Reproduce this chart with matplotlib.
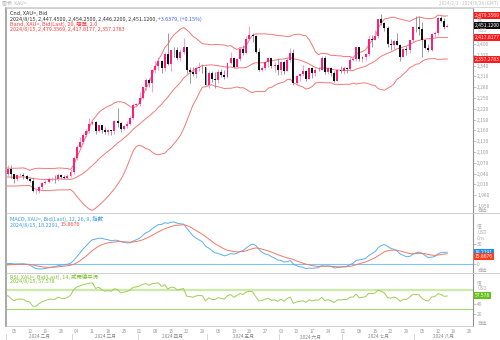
import numpy as np
import pandas as pd
import matplotlib
matplotlib.use('Agg')
import matplotlib.pyplot as plt
from matplotlib.transforms import blended_transform_factory

plt.rcParams['font.family'] = ['Noto Sans CJK TC', 'DejaVu Sans']

# XAU= daily candles, 2024-02-01 .. 2024-08-15
dates = pd.bdate_range('2024-02-01', '2024-08-15')

opens = [2039, 2054, 2039, 2025, 2035, 2035, 2034, 2024, 2020, 1992, 1992, 2004, 2013, 2018, 2024, 2025, 2024, 2035, 2031, 2029, 2034,
         2044, 2083, 2114, 2128, 2148, 2159, 2179, 2182, 2158, 2174, 2162, 2155, 2160, 2157, 2186, 2181, 2165, 2172, 2179, 2194, 2231,
         2233, 2251, 2280, 2300, 2291, 2329, 2339, 2352, 2333, 2373, 2344, 2383, 2382, 2361, 2379, 2391, 2327, 2322, 2316, 2332, 2337, 2335,
         2286, 2320, 2303, 2301, 2323, 2314, 2309, 2346, 2360, 2336, 2358, 2385, 2376, 2415, 2425, 2421, 2379, 2329, 2334, 2350, 2361, 2338, 2343,
         2327, 2350, 2326, 2355, 2375, 2293, 2311, 2316, 2324, 2303, 2333, 2319, 2329, 2328, 2360, 2322, 2334, 2320, 2298, 2327,
         2326, 2332, 2330, 2356, 2357, 2392, 2358, 2364, 2371, 2415, 2411, 2422, 2469, 2459, 2445, 2400, 2396, 2409, 2398, 2365, 2387, 2384, 2410,
         2448, 2446, 2443, 2410, 2390, 2382, 2427, 2431, 2472, 2465, 2447.45]
highs = [2065, 2065, 2040, 2039, 2043, 2042, 2036, 2030, 2031, 1996, 2006, 2016, 2022, 2031, 2030, 2035, 2041, 2038, 2037, 2039, 2053,
         2088, 2119, 2141, 2152, 2165, 2195, 2189, 2185, 2175, 2175, 2170, 2163, 2162, 2189, 2222, 2183, 2176, 2185, 2199, 2236, 2236,
         2266, 2281, 2305, 2305, 2331, 2354, 2365, 2355, 2378, 2431, 2384, 2392, 2392, 2385, 2417, 2392, 2336, 2335, 2338, 2351, 2345, 2336,
         2326, 2326, 2323, 2330, 2330, 2327, 2351, 2378, 2364, 2360, 2391, 2398, 2422, 2450, 2430, 2426, 2390, 2339, 2352, 2364, 2362, 2351, 2360,
         2354, 2353, 2365, 2388, 2387, 2314, 2318, 2342, 2327, 2336, 2335, 2332, 2335, 2366, 2368, 2337, 2336, 2325, 2331, 2339,
         2340, 2335, 2365, 2363, 2392, 2393, 2366, 2375, 2425, 2424, 2440, 2470, 2483, 2462, 2449, 2413, 2412, 2431, 2400, 2390, 2394, 2412, 2451,
         2477, 2477, 2461, 2415, 2400, 2431, 2437, 2475, 2478, 2472, 2454.25]
lows = [2032, 2029, 2014, 2020, 2030, 2026, 2021, 2017, 1990, 1984, 1985, 1997, 2012, 2013, 2019, 2015, 2019, 2026, 2024, 2025, 2030,
        2039, 2079, 2110, 2123, 2141, 2154, 2175, 2150, 2156, 2152, 2151, 2147, 2146, 2151, 2169, 2156, 2160, 2168, 2175, 2188, 2229,
        2229, 2246, 2272, 2281, 2267, 2319, 2327, 2319, 2326, 2342, 2326, 2365, 2356, 2354, 2372, 2320, 2292, 2311, 2305, 2325, 2320, 2285,
        2277, 2295, 2277, 2291, 2308, 2303, 2306, 2345, 2332, 2336, 2354, 2370, 2373, 2412, 2406, 2375, 2326, 2325, 2329, 2335, 2334, 2323, 2314,
        2314, 2316, 2325, 2351, 2287, 2286, 2298, 2312, 2296, 2302, 2306, 2310, 2325, 2327, 2316, 2318, 2310, 2294, 2298, 2319,
        2318, 2319, 2326, 2352, 2353, 2353, 2351, 2356, 2367, 2393, 2410, 2418, 2452, 2435, 2393, 2384, 2385, 2397, 2353, 2364, 2370, 2376, 2405,
        2432, 2426, 2364, 2385, 2378, 2380, 2419, 2425, 2461, 2441, 2446.22]
closes = [2054, 2039, 2025, 2035, 2035, 2034, 2024, 2020, 1992, 1992, 2004, 2013, 2018, 2024, 2025, 2024, 2035, 2031, 2029, 2034, 2044,
          2083, 2114, 2128, 2148, 2159, 2179, 2182, 2158, 2174, 2162, 2155, 2160, 2157, 2186, 2181, 2165, 2172, 2179, 2194, 2231, 2233,
          2251, 2280, 2300, 2291, 2329, 2339, 2352, 2333, 2373, 2344, 2383, 2382, 2361, 2379, 2391, 2327, 2322, 2316, 2332, 2337, 2335, 2286,
          2320, 2303, 2301, 2323, 2314, 2309, 2346, 2360, 2336, 2358, 2385, 2376, 2415, 2425, 2421, 2379, 2329, 2334, 2350, 2361, 2338, 2343, 2327,
          2350, 2326, 2355, 2375, 2293, 2311, 2316, 2324, 2303, 2333, 2319, 2329, 2328, 2360, 2322, 2334, 2320, 2298, 2327, 2326,
          2332, 2330, 2356, 2357, 2392, 2358, 2364, 2371, 2415, 2411, 2422, 2469, 2459, 2445, 2400, 2396, 2409, 2398, 2365, 2387, 2384, 2410, 2448,
          2446, 2443, 2410, 2390, 2382, 2427, 2431, 2472, 2465, 2447.48, 2451.12]

# closes before the visible window (Nov 2023 - Jan 2024), only for indicator warm-up
warmup_closes = [1983, 1986, 1992, 1978, 1969, 1950, 1958, 1940, 1946, 1963, 1959, 1981, 1981, 1978, 1998, 1990, 1992, 2002, 2014, 2041, 2044, 2036,
                 2072, 2029, 2019, 2025, 2028, 2004, 1981, 1980, 2027, 2036, 2019, 2027, 2040, 2031, 2045, 2053, 2053, 2067, 2077, 2065, 2063,
                 2063, 2059, 2042, 2043, 2045, 2027, 2030, 2024, 2029, 2049, 2055, 2028, 2006, 2023, 2029, 2022, 2029, 2014, 2020, 2018, 2032, 2037, 2039]

price_ticks = [1950, 1980, 2010, 2040, 2070, 2100, 2130, 2160, 2190, 2220, 2250, 2280, 2310, 2340, 2370, 2400]
macd_ticks = [0, 30]
rsi_ticks = [20, 40]
rsi_levels = [70, 30]
month_names = ['二月', '三月', '四月', '五月', '六月', '七月', '八月']

# last-value labels shown on the right axis
band_last = ['2,479.3569', '2,417.8177', '2,357.2783']
band_last_vals = [2479.3569, 2417.8177, 2357.2783]
close_last = '2,451.1200'
macd_last, signal_last = 18.2291, 15.8676
rsi_last = 57.578

# ---- indicators ----
all_close = pd.Series(warmup_closes + closes, dtype=float)
nw = len(warmup_closes)
mid = all_close.rolling(20).mean()
sd = all_close.rolling(20).std(ddof=0)
upper = mid + 2 * sd
lower = mid - 2 * sd
macd = all_close.ewm(span=12, adjust=False).mean() - all_close.ewm(span=26, adjust=False).mean()
signal = macd.ewm(span=9, adjust=False).mean()
delta = all_close.diff()
gain = delta.clip(lower=0).ewm(alpha=1 / 14, adjust=False).mean()
loss = (-delta.clip(upper=0)).ewm(alpha=1 / 14, adjust=False).mean()
rsi = 100 - 100 / (1 + gain / loss)

n = len(closes)
x = np.arange(n)
xe = np.arange(-1, n)  # include the day before so lines reach the left edge
sl = slice(nw - 1, None)

W, H = 500, 340
fig = plt.figure(figsize=(5, 3.4), dpi=100)


def fy(py):
    return 1 - py / H


L, R = 6 / W, 473 / W
ax = fig.add_axes([L, fy(213), R - L, (213 - 8) / H])
axm = fig.add_axes([L, fy(273), R - L, 60 / H])
axr = fig.add_axes([L, fy(326), R - L, 53 / H])

xlim = (-0.55, 148.2)
grey = '#a0a0a0'
for a in (ax, axm, axr):
    a.set_xlim(*xlim)
    a.set_xticks([])
    a.yaxis.tick_right()
    a.tick_params(axis='y', length=2, width=0.5, colors='#b0b0b0', labelcolor=grey, labelsize=3.5, pad=1)
    for s in a.spines.values():
        s.set_color('#c8c8c8')
        s.set_linewidth(0.6)
    a.spines['left'].set_color('#a8a8a8')
    a.spines['left'].set_linewidth(1.4)
    a.spines['right'].set_color('#909090')
    a.spines['right'].set_linewidth(0.8)

# ---- candles ----
o, h, l, c = map(np.array, (opens, highs, lows, closes))
up = c >= o
wick_col = np.where(up, '#ff8cbd', '#8a8a8a')
body_col = np.where(up, '#ff1f7a', '#111111')
ax.vlines(x, l, h, colors=wick_col, lw=0.6, zorder=2)
ax.bar(x, np.maximum(np.abs(c - o), 0.8), bottom=np.minimum(o, c), width=0.62,
       color=body_col, linewidth=0, zorder=3)

band_col = '#f47878'
for band in (upper, mid, lower):
    ax.plot(xe, band.values[sl], color=band_col, lw=0.7, zorder=1)
ax.set_ylim(1930.6, 2500)
ax.set_yticks(price_ticks)
ax.set_yticklabels([f'{t:,}' for t in price_ticks])

tr = blended_transform_factory(ax.transAxes, ax.transData)
for txt, v in zip(band_last, band_last_vals):
    ax.text(1.004, v, txt, transform=tr, fontsize=3.6, color='white', va='center', ha='left',
            bbox=dict(boxstyle='square,pad=0.2', fc='#ff1a1a', ec='none'))
ax.text(1.004, closes[-1], close_last, transform=tr, fontsize=3.6, color='white', va='center', ha='left',
        bbox=dict(boxstyle='square,pad=0.2', fc='#101010', ec='none'))

# ---- MACD ----
axm.axhline(0, color='#7cc4f2', lw=0.8)
axm.plot(xe, macd.values[sl], color='#5ab0ee', lw=0.7)
axm.plot(xe, signal.values[sl], color='#f27868', lw=0.7)
axm.set_ylim(-13, 77)
axm.set_yticks(macd_ticks)
axm.set_yticklabels([str(t) for t in macd_ticks])
trm = blended_transform_factory(axm.transAxes, axm.transData)
axm.text(1.004, macd_last, f'{macd_last:.4f}', transform=trm, fontsize=3.6, color='white', va='center',
         bbox=dict(boxstyle='square,pad=0.2', fc='#1a8cff', ec='none'))
axm.text(1.004, macd_last - 7, f'{signal_last:.4f}', transform=trm, fontsize=3.6, color='white', va='center',
         bbox=dict(boxstyle='square,pad=0.2', fc='#ff3b1a', ec='none'))

# ---- RSI ----
axr.axhline(rsi_levels[0], color='#cdeaa8', lw=1.6)
axr.axhline(rsi_levels[1], color='#a6d672', lw=0.8)
axr.plot(xe, rsi.values[sl], color='#9ccf55', lw=0.7)
axr.set_ylim(-4.6, 105.2)
axr.set_yticks(rsi_ticks)
axr.set_yticklabels([str(t) for t in rsi_ticks])
trr = blended_transform_factory(axr.transAxes, axr.transData)
axr.text(1.004, rsi_last, f'{rsi_last:.3f}', transform=trr, fontsize=3.6, color='white', va='center',
         bbox=dict(boxstyle='square,pad=0.2', fc='#66c01a', ec='none'))

# ---- right-side unit labels ----
side = [(19, '值'), (30.5, 'USD'), (210, '自适'),
        (226, '值'), (232, 'USD'), (238, 'Gns'), (270, '自适'),
        (283, '值'), (289, 'USD'), (323.5, '自适')]
for py, txt in side:
    fig.text(477 / W, fy(py), txt, fontsize=3.4, color='#b0b0b0', va='center', ha='left')

# ---- legends ----
fs = 3.9
fig.text(10 / W, fy(13.5), 'Cnd, XAU=, Bid', fontsize=fs, color='#333333', va='center')
t1 = fig.text(10 / W, fy(19), '2024/8/15, 2,447.4500, 2,454.2500, 2,446.2200, 2,451.1200, ',
              fontsize=fs, color='#333333', va='center')
ax.annotate('+3.6379, (+0.15%)', xy=(1, 0.5), xycoords=t1, va='center', ha='left',
            fontsize=fs, color='#3a5cff', annotation_clip=False)
fig.text(10 / W, fy(24.5), 'Band, XAU=, Bid(Last), 20, 簡單, 2.0', fontsize=fs, color='#ff3a3a', va='center')
fig.text(10 / W, fy(29.5), '2024/8/15, 2,479.3569, 2,417.8177, 2,357.2783', fontsize=fs, color='#ff3a3a', va='center')

fig.text(10 / W, fy(219), 'MACD, XAU=, Bid(Last), 12, 26, 9, 指數', fontsize=fs, color='#3c9ae8', va='center')
t2 = fig.text(10 / W, fy(225), '2024/8/15, 18.2291, ', fontsize=fs, color='#3c9ae8', va='center')
axm.annotate('15.8676', xy=(1, 0.5), xycoords=t2, va='center', ha='left',
             fontsize=fs, color='#ff4a3a', annotation_clip=False)

fig.text(10 / W, fy(276.5), 'RSI, XAU=, Bid(Last), 14, 威爾德平滑', fontsize=fs, color='#7cbf2a', va='center')
fig.text(10 / W, fy(282), '2024/8/15, 57.578', fontsize=fs, color='#7cbf2a', va='center')

# ---- title strip ----
fig.text(2 / W, fy(3), '圖表  XAU=', fontsize=3.6, color='#b8b8b8', va='center')
fig.text(498 / W, fy(3), '2024/2/1 - 2024/8/26 (GMT)', fontsize=3.4, color='#c0c0c0', va='center', ha='right')
fig.add_artist(plt.Line2D([5 / W, 1], [fy(6.5), fy(6.5)], color='#d0d0d0', lw=0.6, transform=fig.transFigure))
for py in (213, 273):
    fig.add_artist(plt.Line2D([R, 1], [fy(py), fy(py)], color='#c8c8c8', lw=0.6, transform=fig.transFigure))

# ---- date axis ----
trx = blended_transform_factory(axr.transData, fig.transFigure)
mondays = [i for i, d in enumerate(pd.bdate_range('2024-02-01', '2024-08-30')) if d.weekday() == 0]
all_days = pd.bdate_range('2024-02-01', '2024-08-30')
for i in mondays:
    if i <= xlim[1]:
        axr.text(i, fy(331.5), f'{all_days[i].day:02d}', transform=trx, fontsize=3.3,
                 color='#999999', ha='center', va='center', clip_on=False)
month_start = [0] + [i for i in range(1, n) if dates[i].month != dates[i - 1].month]
edges = [s - 0.5 for s in month_start] + [xlim[1]]
for k, name in enumerate(month_names):
    axr.text((edges[k] + edges[k + 1]) / 2, fy(336.5), f'2024 {name}', transform=trx, fontsize=3.4,
             color='#888888', ha='center', va='center', clip_on=False)
    axr.plot([edges[k], edges[k]], [fy(333.5), fy(339.5)], transform=trx, color='#c8c8c8',
             lw=0.5, clip_on=False)

fig.savefig('out.png', dpi=100)
